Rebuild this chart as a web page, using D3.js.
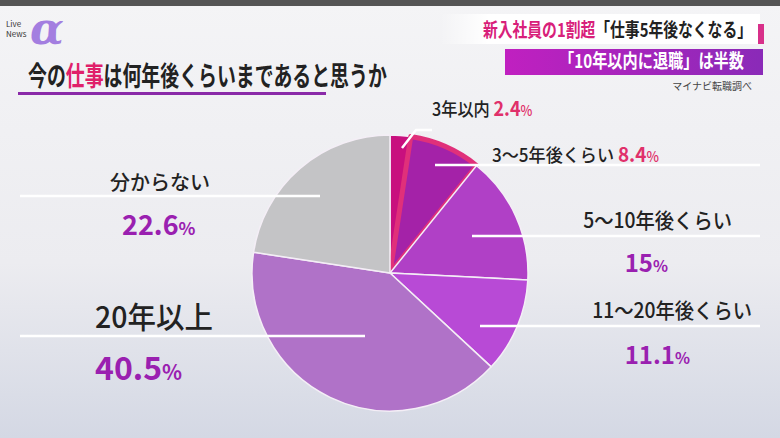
<!DOCTYPE html><html><head><meta charset="utf-8">
<script src="https://cdn.jsdelivr.net/npm/d3@7"></script>
<style>body{margin:0}svg{display:block;font-family:"Noto Sans CJK JP",sans-serif}</style></head><body>
<svg id="c" width="780" height="438"></svg>
<script>
const categories=["3年以内","3～5年後くらい","5～10年後くらい","11～20年後くらい","20年以上","分からない"];
const values=[2.4,8.4,15,11.1,40.5,22.6];
const valueLabels=["2.4%","8.4%","15%","11.1%","40.5%","22.6%"];
const colors=["#c8107e","#a422a8","#b040c6","#b84ad6","#b072c8","#c4c4c6"];
const svg=d3.select("#c");
const defs=svg.append("defs");
const g=defs.append("linearGradient").attr("id","bg").attr("x1",0).attr("y1",0).attr("x2",0).attr("y2",1);
g.append("stop").attr("offset",0).attr("stop-color","#f4f4f6");
g.append("stop").attr("offset",0.6).attr("stop-color","#ececf0");
g.append("stop").attr("offset",1).attr("stop-color","#d4d8e4");
svg.append("rect").attr("width",780).attr("height",438).attr("fill","url(#bg)");
svg.append("rect").attr("width",780).attr("height",6).attr("fill","#555");
// logo
svg.append("text").attr("x",30).attr("y",44).attr("font-size",44).attr("font-style","italic").attr("font-weight",700).attr("fill","#a37ee0").attr("font-family","DejaVu Serif").text("α");
svg.append("text").attr("x",6).attr("y",27).attr("font-size",8).attr("fill","#333").text("Live");
svg.append("text").attr("x",6).attr("y",37).attr("font-size",8).attr("fill","#333").text("News");
// title (condensed)
const t=svg.append("text").attr("transform","translate(28,86) scale(0.7,1)").attr("font-size",27).attr("font-weight",700).attr("fill","#222");
t.append("tspan").text("今の");t.append("tspan").attr("fill","#e0206a").text("仕事");t.append("tspan").text("は何年後くらいまであると思うか");
svg.append("rect").attr("x",18).attr("y",92).attr("width",308).attr("height",3).attr("fill","#8a2aa8");
// headline boxes
const hg=defs.append("linearGradient").attr("id","hb");
hg.append("stop").attr("offset",0).attr("stop-color","#fff").attr("stop-opacity",0);
hg.append("stop").attr("offset",0.15).attr("stop-color","#fff");
svg.append("rect").attr("x",440).attr("y",14).attr("width",320).attr("height",30).attr("fill","url(#hb)");
svg.append("rect").attr("x",758).attr("y",24).attr("width",6).attr("height",20).attr("fill","#d8308a");
const h1=svg.append("text").attr("transform","translate(752,37) scale(0.78,1)").attr("text-anchor","end").attr("font-size",19).attr("font-weight",700).attr("fill","#222");
h1.append("tspan").attr("fill","#d8207a").text("新入社員の1割超");h1.append("tspan").text("「仕事5年後なくなる」");
const pg=defs.append("linearGradient").attr("id","pb");
pg.append("stop").attr("offset",0).attr("stop-color","#c020c0");pg.append("stop").attr("offset",1).attr("stop-color","#8a2ab8");
svg.append("rect").attr("x",505).attr("y",49).attr("width",258).attr("height",26).attr("fill","url(#pb)");
svg.append("text").attr("transform","translate(744,68) scale(0.8,1)").attr("text-anchor","end").attr("font-size",19).attr("font-weight",700).attr("fill","#fff").text("「10年以内に退職」は半数");
svg.append("text").attr("x",752).attr("y",90).attr("text-anchor","end").attr("font-size",10).attr("fill","#444").text("マイナビ転職調べ");
// pie
const cx=390,cy=273,r=138;
const pie=d3.pie().sort(null).value(d=>d);
const arcs=pie(values);
const arc=d3.arc().innerRadius(0).outerRadius(r);
const pg2=svg.append("g").attr("transform",`translate(${cx},${cy})`);
pg2.selectAll("path").data(arcs).join("path").attr("d",arc).attr("fill",(d,i)=>colors[i]).attr("stroke",(d,i)=>i==1?"#e0307a":"#f4eef6").attr("stroke-width",(d,i)=>i==1?5:1.5).attr("stroke-linejoin","round");
// leader lines
const L=[
 [[402,148],[416,130],[432,130]],
 [[435,165],[760,165]],
 [[472,236],[760,236]],
 [[480,326],[760,326]],
 [[20,336],[365,336]],
 [[20,196],[320,196]]
];
L.forEach(pts=>svg.append("path").attr("d",d3.line()(pts)).attr("fill","none").attr("stroke","#fff").attr("stroke-width",2.5));
const lab=svg.append("g").attr("font-weight",500);
function inline(x,y,ci,sx){
 const tx=lab.append("text").attr("transform",`translate(${x},${y}) scale(${sx},1)`).attr("font-size",18).attr("fill","#222");
 tx.append("tspan").text(categories[ci]+" ");tx.append("tspan").attr("fill","#e0306a").attr("font-weight",700).attr("font-size",20).text(valueLabels[ci].replace("%",""));tx.append("tspan").attr("fill","#e0306a").attr("font-size",14).text("%");
}
inline(432,116,0,0.9);
inline(492,162,1,0.95);
function block(x,y,anc,ci,fs,vfs,vy,sx){
 lab.append("text").attr("transform",`translate(${x},${y}) scale(${sx},1)`).attr("font-size",fs).attr("fill","#222").attr("text-anchor",anc).text(categories[ci]);
 const v=lab.append("text").attr("x",vy[0]).attr("y",vy[1]).attr("font-size",vfs).attr("fill","#9a20b0").attr("font-weight",700).attr("text-anchor",anc);
 v.append("tspan").text(valueLabels[ci].replace("%",""));v.append("tspan").attr("font-size",vfs*0.65).text("%");
}
block(732,228,"end",2,21,24,[668,272],0.92);
block(752,318,"end",3,21,24,[690,364],0.92);
block(95,328,"start",4,30,32,[95,380],0.95);
block(110,190,"start",5,20,27,[122,235],1);
</script></body></html>
